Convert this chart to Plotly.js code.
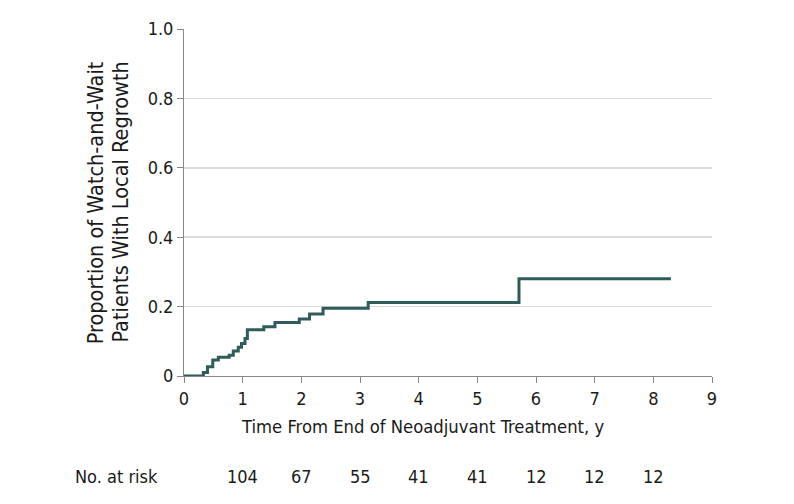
<!DOCTYPE html>
<html>
<head>
<meta charset="utf-8">
<script src="https://cdn.plot.ly/plotly-3.0.1.min.js"></script>
<style>html,body{margin:0;padding:0;background:#fff;}#chart{width:794px;height:504px;}</style>
</head>
<body>
<div id="chart"></div>
<script>
// Cumulative proportion with local regrowth (time in years, proportion)
const stepTimes = [0, 0.33, 0.40, 0.49, 0.585, 0.77, 0.84, 0.925, 0.98, 1.04, 1.08, 1.36, 1.55, 1.965, 2.14, 2.37, 3.14, 5.71, 8.30];
const stepValues = [0, 0.010, 0.027, 0.046, 0.054, 0.060, 0.072, 0.083, 0.094, 0.108, 0.133, 0.142, 0.154, 0.164, 0.179, 0.195, 0.212, 0.280, 0.280];
const riskTimes = [1, 2, 3, 4, 5, 6, 7, 8];
const riskCounts = [104, 67, 55, 41, 41, 12, 12, 12];
const xTicks = [0, 1, 2, 3, 4, 5, 6, 7, 8, 9];
const yTicks = [0, 0.2, 0.4, 0.6, 0.8, 1.0];
const yTickText = ['0', '0.2', '0.4', '0.6', '0.8', '1.0'];
const xTitle = 'Time From End of Neoadjuvant Treatment, y';
const yTitleLines = ['Proportion of Watch-and-Wait', 'Patients With Local Regrowth'];
const riskLabel = 'No. at risk';

const FONT = 'DejaVu Sans Condensed, Liberation Sans Narrow, sans-serif';
const TXT = '#1a1a1a';

const trace = {
  x: stepTimes, y: stepValues, type: 'scatter', mode: 'lines',
  line: {shape: 'hv', color: '#2f5c5b', width: 3},
  cliponaxis: false, hoverinfo: 'skip'
};

const annotations = riskTimes.map((t, i) => ({
  x: t, xref: 'x', y: -0.29, yref: 'paper', yanchor: 'middle', xanchor: 'center',
  text: String(riskCounts[i]), showarrow: false, font: {family: FONT, size: 18, color: TXT}
}));
annotations.push({
  x: -0.21, xref: 'paper', y: -0.29, yref: 'paper', xanchor: 'left', yanchor: 'middle',
  text: riskLabel, showarrow: false, font: {family: FONT, size: 18, color: TXT}
});
annotations.push({
  x: 0.451, xref: 'paper', y: -0.145, yref: 'paper', xanchor: 'center', yanchor: 'middle',
  text: xTitle, showarrow: false, font: {family: FONT, size: 18.3, color: TXT}
});
annotations.push({
  x: -0.167, xref: 'paper', y: 0.5, yref: 'paper', xanchor: 'center', yanchor: 'middle', textangle: -90,
  text: yTitleLines[0], showarrow: false, font: {family: FONT, size: 21.5, color: TXT}
});
annotations.push({
  x: -0.121, xref: 'paper', y: 0.5, yref: 'paper', xanchor: 'center', yanchor: 'middle', textangle: -90,
  text: yTitleLines[1], showarrow: false, font: {family: FONT, size: 21.5, color: TXT}
});

const layout = {
  width: 794, height: 504,
  margin: {l: 184, r: 82, t: 29, b: 128},
  paper_bgcolor: '#fff', plot_bgcolor: '#fff',
  showlegend: false,
  font: {family: FONT, size: 18, color: TXT},
  xaxis: {
    range: [0, 9], tickvals: xTicks, ticks: 'outside', ticklen: 6, tickcolor: '#888',
    showline: true, linecolor: '#888', linewidth: 1, showgrid: false, zeroline: false,
    tickfont: {family: FONT, size: 18, color: TXT}
  },
  yaxis: {
    range: [0, 1], tickvals: yTicks, ticktext: yTickText, ticks: 'outside', ticklen: 6, tickcolor: '#888',
    showline: true, linecolor: '#888', linewidth: 1, showgrid: true, gridcolor: '#dcdcdc', gridwidth: 1.5,
    zeroline: false,
    tickfont: {family: FONT, size: 18, color: TXT}
  },
  annotations: annotations
};

Plotly.newPlot('chart', [trace], layout, {staticPlot: true, displayModeBar: false});
</script>
</body>
</html>
